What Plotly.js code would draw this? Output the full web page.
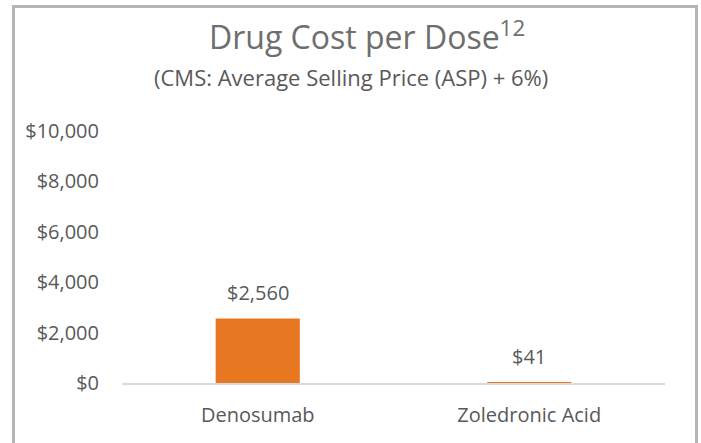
<!DOCTYPE html>
<html>
<head>
<meta charset="utf-8">
<script src="https://cdn.plot.ly/plotly-3.0.1.min.js"></script>
<style>
  html, body { margin: 0; padding: 0; background: #ffffff; }
  #wrap { position: relative; width: 701px; height: 443px; overflow: hidden; }
  #chart { position: absolute; left: 0; top: 0; width: 701px; height: 443px; }
  #frame { position: absolute; left: 12px; top: 5px; width: 680px; height: 460px;
           border: 3px solid #b5b5b5; border-bottom: none; pointer-events: none; }
</style>
</head>
<body>
<div id="wrap">
  <div id="chart"></div>
  <div id="frame"></div>
</div>
<script>
const categories = ["Denosumab", "Zoledronic Acid"];
const costs = [2560, 41];
const tickValues = [0, 2000, 4000, 6000, 8000, 10000];
const tickLabels = ["$0", "$2,000", "$4,000", "$6,000", "$8,000", "$10,000"];
const titleText = "Drug Cost per Dose<sup>12</sup>";
const subtitleText = "(CMS: Average Selling Price (ASP) + 6%)";

const textColor = "#595959";
const titleColor = "#6e6e6e";
const fontFam = "'Open Sans', sans-serif";

const trace = {
  type: "bar",
  x: categories,
  y: costs,
  marker: { color: "#e87722" },
  hoverinfo: "skip"
};

const labelAnns = categories.map((c, i) => ({
  x: c, y: costs[i], xref: "x", yref: "y",
  text: "$" + costs[i].toLocaleString("en-US"),
  showarrow: false, yanchor: "bottom", yshift: 10,
  font: { family: fontFam, size: 20, color: textColor }
}));

const layout = {
  width: 701, height: 443,
  margin: { l: 122, r: 36, t: 131, b: 60 },
  paper_bgcolor: "#ffffff",
  plot_bgcolor: "#ffffff",
  showlegend: false,
  bargap: 0.69,
  font: { family: fontFam, color: textColor },
  xaxis: {
    type: "category",
    showline: true, linecolor: "#d9d9d9", linewidth: 2,
    showgrid: false, zeroline: false, ticks: "",
    ticklabelstandoff: 13,
    tickfont: { family: fontFam, size: 20, color: textColor }
  },
  yaxis: {
    range: [0, 10000],
    tickvals: tickValues, ticktext: tickLabels,
    showline: false, showgrid: false, zeroline: false, ticks: "",
    ticklabelstandoff: 22,
    tickfont: { family: fontFam, size: 20, color: textColor }
  },
  annotations: [
    { xref: "paper", yref: "paper", x: (367 - 122) / 543, y: (383 - 35) / 252,
      text: titleText, showarrow: false, xanchor: "center", yanchor: "middle",
      font: { family: fontFam, size: 32, color: titleColor } },
    { xref: "paper", yref: "paper", x: (351 - 122) / 543, y: (383 - 77) / 252,
      text: subtitleText, showarrow: false, xanchor: "center", yanchor: "middle",
      font: { family: fontFam, size: 22, color: textColor } }
  ].concat(labelAnns)
};

Plotly.newPlot("chart", [trace], layout, { displayModeBar: false, staticPlot: true });
</script>
</body>
</html>
